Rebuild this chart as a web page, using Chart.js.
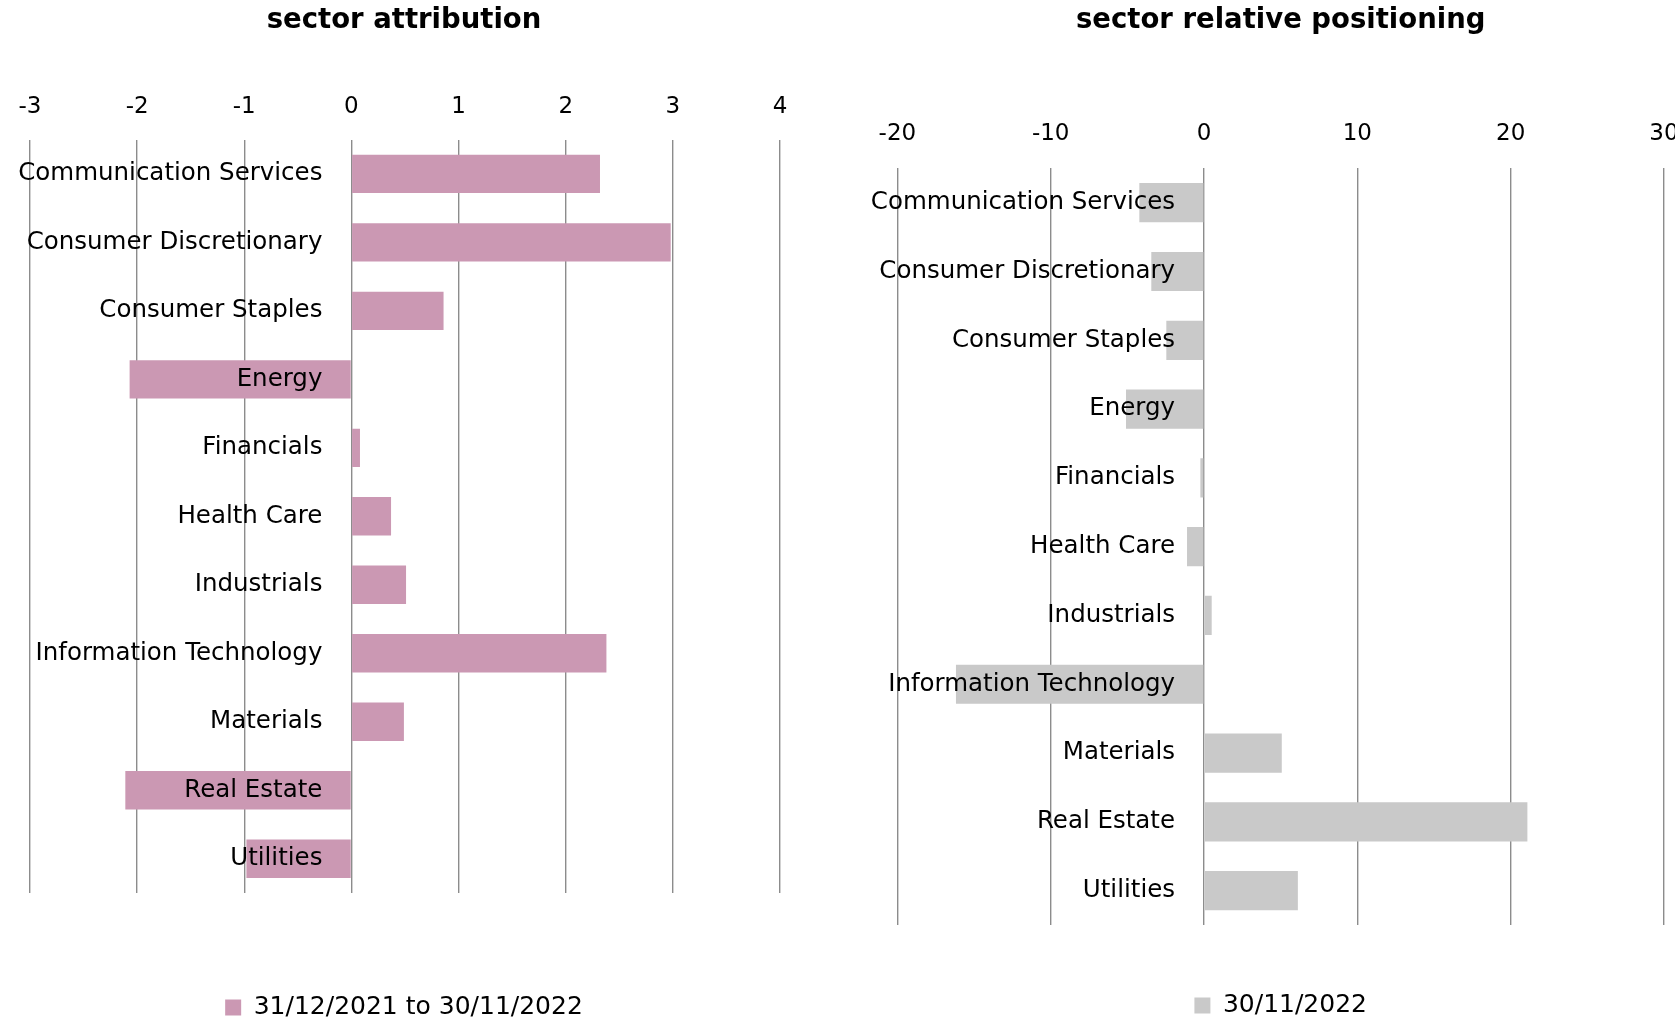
<!DOCTYPE html>
<html>
<head>
<meta charset="utf-8">
<title>sector attribution / sector relative positioning</title>
<script src="https://cdn.jsdelivr.net/npm/chart.js@4.4.0/dist/chart.umd.min.js"></script>
<style>
    html, body { margin: 0; padding: 0; background: #fff; width: 1675px; height: 1019px; overflow: hidden; }
    #boxLeft { position: absolute; left: 0; top: 0; }
    #boxRight { position: absolute; left: 840px; top: 0; }
</style>
</head>
<body>
<div id="boxLeft"><canvas id="chartAttribution" width="840" height="1030"></canvas></div>
<div id="boxRight"><canvas id="chartPositioning" width="860" height="1028"></canvas></div>
<script>
var sectors = ["Communication Services", "Consumer Discretionary", "Consumer Staples", "Energy",
    "Financials", "Health Care", "Industrials", "Information Technology",
    "Materials", "Real Estate", "Utilities"];

// contribution, 31/12/2021 to 30/11/2022
var attribution = [2.32, 2.98, 0.86, -2.07, 0.08, 0.37, 0.51, 2.38, 0.49, -2.11, -0.98];
var attributionTicks = [-3, -2, -1, 0, 1, 2, 3, 4];

// active weight at 30/11/2022
var positioning = [-4.22, -3.44, -2.46, -5.09, -0.24, -1.11, 0.5, -16.18, 5.07, 21.09, 6.12];
var positioningTicks = [-20, -10, 0, 10, 20, 30];

var FONT = "'DejaVu Sans', 'Liberation Sans', sans-serif";

// category names sit left of the zero line, on top of the bars
var sectorLabels = {
    id: 'sectorLabels',
    afterDraw: function (chart) {
        var ctx = chart.ctx;
        var xs = chart.scales.x, ys = chart.scales.y;
        var zero = xs.getPixelForValue(0);
        ctx.save();
        ctx.font = "24.5px " + FONT;
        ctx.fillStyle = '#000';
        ctx.textAlign = 'right';
        ctx.textBaseline = 'middle';
        chart.data.labels.forEach(function (label, i) {
            ctx.fillText(label, zero - 29, ys.getPixelForValue(i));
        });
        ctx.restore();
    }
};

function makeOptions(title, ticks, pad, axisHeight, tickPad, legendPad, gridOnTop) {
    return {
        indexAxis: 'y',
        responsive: false,
        animation: false,
        layout: { padding: pad },
        plugins: {
            title: {
                display: true,
                text: title,
                color: '#000',
                font: { family: FONT, size: 27.5, weight: 'bold' },
                padding: { top: 4, bottom: 0 }
            },
            legend: {
                position: 'bottom',
                labels: {
                    color: '#000',
                    font: { family: FONT, size: 25 },
                    boxWidth: 16,
                    boxHeight: 16,
                    padding: legendPad
                }
            },
            tooltip: { enabled: false }
        },
        scales: {
            x: {
                position: 'top',
                min: ticks[0],
                max: ticks[ticks.length - 1],
                z: gridOnTop ? 1 : 0,
                ticks: {
                    stepSize: ticks[1] - ticks[0],
                    color: '#000',
                    font: { family: FONT, size: 23 },
                    padding: tickPad
                },
                grid: { color: 'rgba(0,0,0,0.45)', lineWidth: 1.4, drawTicks: false },
                border: { display: false },
                afterFit: function (scale) { scale.height = axisHeight; }
            },
            y: { display: false }
        }
    };
}

var ctx1 = document.getElementById('chartAttribution').getContext('2d');
new Chart(ctx1, {
    type: 'bar',
    data: {
        labels: sectors,
        datasets: [{
            label: '31/12/2021 to 30/11/2022',
            data: attribution,
            backgroundColor: '#CB98B3',
            borderWidth: 0,
            barPercentage: 0.56,
            categoryPercentage: 1
        }]
    },
    options: makeOptions('sector attribution', attributionTicks,
        { left: 28, right: 60, top: 0, bottom: 0 }, 102.6, 18.5, 102, true),
    plugins: [sectorLabels]
});

var ctx2 = document.getElementById('chartPositioning').getContext('2d');
new Chart(ctx2, {
    type: 'bar',
    data: {
        labels: sectors,
        datasets: [{
            label: '30/11/2022',
            data: positioning,
            backgroundColor: '#C9C9C9',
            borderWidth: 0,
            barPercentage: 0.57,
            categoryPercentage: 1
        }]
    },
    options: makeOptions('sector relative positioning', positioningTicks,
        { left: 57.4, right: 36, top: 0, bottom: 0 }, 131.3, 20.5, 68, false),
    plugins: [sectorLabels]
});
</script>
</body>
</html>
